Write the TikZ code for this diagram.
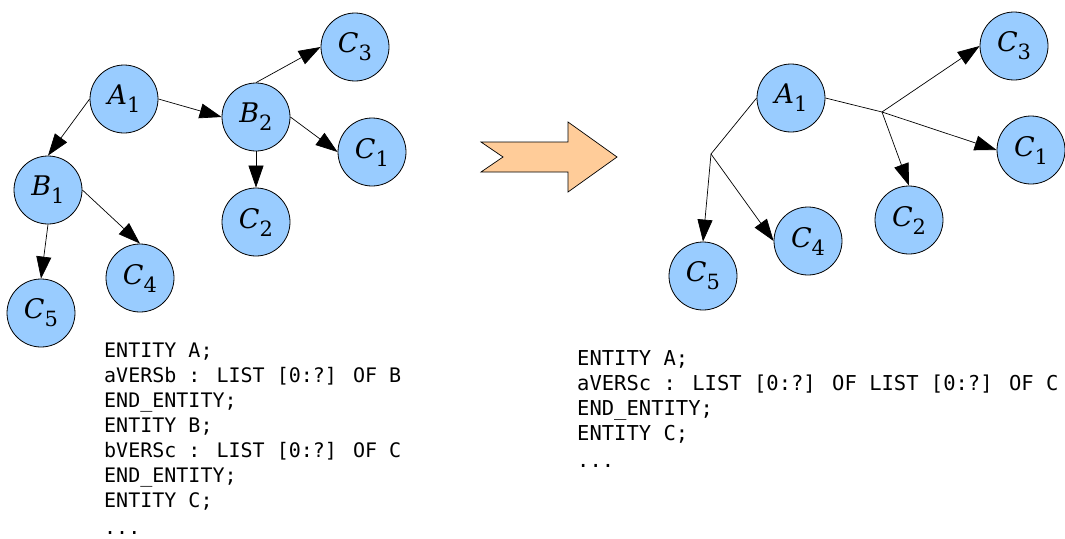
\documentclass[tikz,border=0pt]{standalone}
\usepackage{fontspec}
\usepackage{tikz}
\usetikzlibrary{arrows.meta,positioning}
\newfontfamily\nodefont{DejaVu Serif}
\newfontfamily\codefont{DejaVu Sans Mono}
\definecolor{EntityBlue}{HTML}{99CCFF}
\definecolor{ArrowOrange}{HTML}{FFCC99}
\newcommand{\ent}[2]{{\nodefont\fontsize{27}{27}\selectfont\itshape #1}\raisebox{-8pt}{\nodefont\fontsize{21}{21}\selectfont #2}}

\tikzset{
  entity/.style={circle,draw,fill=EntityBlue,minimum size=68pt,inner sep=0pt,line width=.8pt},
  link/.style={-{Triangle[length=22pt,width=15pt]},line width=.7pt},
  codeleft/.style={anchor=base west,inner sep=0pt,font=\codefont\fontsize{20}{25}\selectfont},
  coderight/.style={anchor=base west,inner sep=0pt,font=\codefont\fontsize{20.5}{25}\selectfont},
}

\begin{document}
\begin{tikzpicture}[x=1pt,y=-1pt]
  \useasboundingbox (0,0) rectangle (1065,538);
  % before
  \node[entity] (a1) at (124,99) {\ent{A}{1}};
  \node[entity] (b1) at (48,190) {\ent{B}{1}};
  \node[entity] (b2) at (256,117) {\ent{B}{2}};
  \node[entity] (c1) at (372,152) {\ent{C}{1}};
  \node[entity] (c2) at (256,222) {\ent{C}{2}};
  \node[entity] (c3) at (355,47) {\ent{C}{3}};
  \node[entity] (c4) at (140,278) {\ent{C}{4}};
  \node[entity] (c5) at (41,313) {\ent{C}{5}};
  \draw[link] (a1.west) -- (b1.north);
  \draw[link] (a1.east) -- (b2.west);
  \draw[link] (b2.north) -- (c3.west);
  \draw[link] (b2.east) -- (c1.west);
  \draw[link] (b2.south) -- (c2.north);
  \draw[link] (b1.east) -- (c4.north);
  \draw[link] (b1.south) -- (c5.north);
  % big arrow
  \draw[fill=ArrowOrange,line width=.7pt] (481,142) -- (568,142) -- (568,122) -- (617,157)
    -- (568,192) -- (568,172) -- (481,172) -- (503,157) -- cycle;
  % after
  \node[entity] (ra1) at (791,98) {\ent{A}{1}};
  \node[entity] (rc1) at (1031,150) {\ent{C}{1}};
  \node[entity] (rc2) at (909,220) {\ent{C}{2}};
  \node[entity] (rc3) at (1014,46) {\ent{C}{3}};
  \node[entity] (rc4) at (808,241) {\ent{C}{4}};
  \node[entity] (rc5) at (703,276) {\ent{C}{5}};
  \coordinate (j1) at (882,112);
  \coordinate (j2) at (711,154);
  \draw[line width=.7pt] (ra1.east) -- (j1);
  \draw[line width=.7pt] (ra1.west) -- (j2);
  \draw[link] (j1) -- (rc3.west);
  \draw[link] (j1) -- (rc1.west);
  \draw[link] (j1) -- (rc2.north);
  \draw[link] (j2) -- (rc5.north);
  \draw[link] (j2) -- (rc4.west);
  % code
  \foreach \t [count=\i] in {ENTITY A;,aVERSb : LIST [0:?] OF B,END\_ENTITY;,ENTITY B;,
      bVERSc : LIST [0:?] OF C,END\_ENTITY;,ENTITY C;}
    \node[codeleft] (l\i) at (104,357+25*\i-25) {\t};
  \node[codeleft] (ldots) at (104,534) {...};
  \foreach \t [count=\i] in {ENTITY A;,aVERSc : LIST [0:?] OF LIST [0:?] OF C,END\_ENTITY;,ENTITY C;}
    \node[coderight] (r\i) at (577,365+25*\i-25) {\t};
  \node[coderight] (rdots) at (577,467) {...};
\end{tikzpicture}
\end{document}
